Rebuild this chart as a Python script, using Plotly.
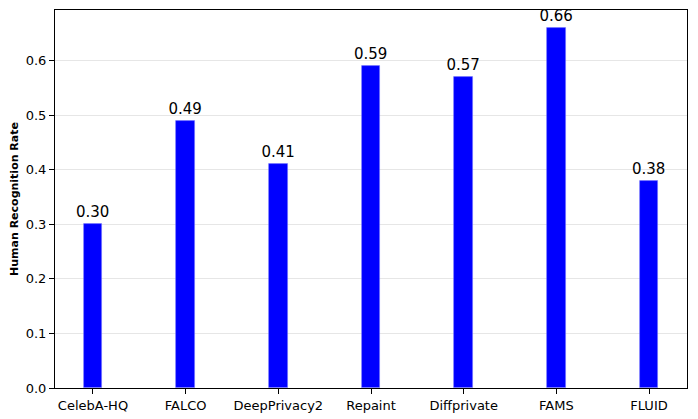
import plotly.graph_objects as go

categories = ["CelebA-HQ", "FALCO", "DeepPrivacy2", "Repaint", "Diffprivate", "FAMS", "FLUID"]
values = [0.30, 0.49, 0.41, 0.59, 0.57, 0.66, 0.38]
labels = [f"{v:.2f}" for v in values]
yticks = [0.0, 0.1, 0.2, 0.3, 0.4, 0.5, 0.6]

fig = go.Figure(go.Bar(
    x=list(range(len(categories))), y=values, width=0.2,
    marker=dict(color="#0000ff", line=dict(color="rgba(120,120,255,0.6)", width=0.8)),
    text=labels, textposition="outside", cliponaxis=False, constraintext="none",
    textfont=dict(family="DejaVu Sans", size=15, color="black"),
))

fig.update_layout(
    width=698, height=419, margin=dict(l=55, r=11, t=10, b=31, pad=0),
    paper_bgcolor="white", plot_bgcolor="white", showlegend=False,
    font=dict(family="DejaVu Sans", color="black", size=13),
    bargap=0,
)
fig.update_xaxes(
    range=[-0.41, 6.41], tickvals=list(range(len(categories))), ticktext=categories,
    showgrid=False, showline=True, linecolor="black", linewidth=1, mirror=True,
    ticks="outside", ticklen=5, tickcolor="black", tickfont=dict(size=13),
    zeroline=False, automargin=False,
)
fig.update_yaxes(
    range=[0, 0.693], tickvals=yticks, ticktext=[f"{t:.1f}" for t in yticks],
    showgrid=True, gridcolor="rgba(200,200,200,0.45)", gridwidth=1,
    showline=True, linecolor="black", linewidth=1, mirror=True,
    ticks="outside", ticklen=5, tickcolor="black", tickfont=dict(size=13),
    zeroline=False, automargin=False,
    title=dict(text="<b>Human Recognition Rate</b>", font=dict(size=11), standoff=4),
)
fig.write_html("out.html", config={"displayModeBar": False},
               post_script="document.body.style.margin='0';document.body.style.overflow='hidden';")
